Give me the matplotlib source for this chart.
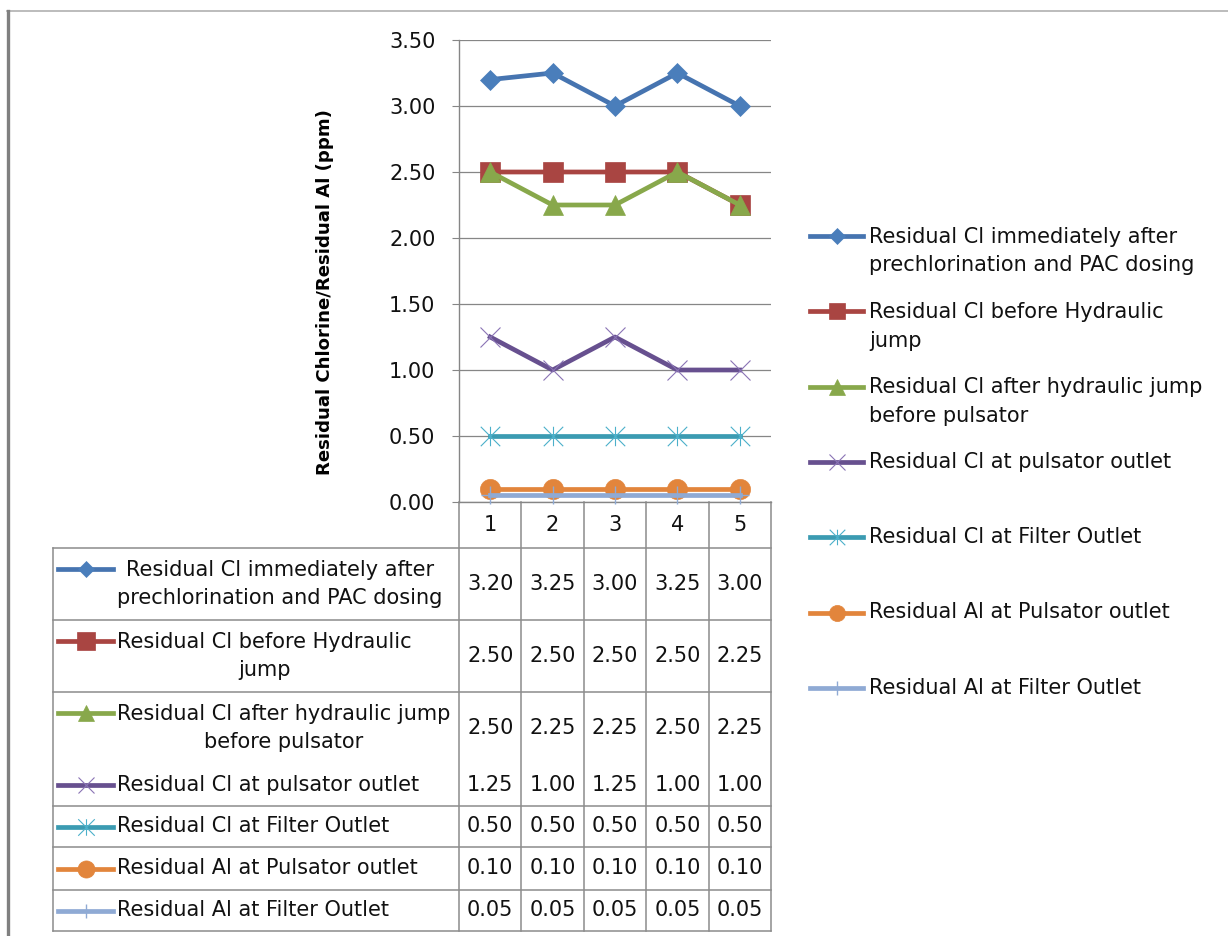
import matplotlib
matplotlib.use("Agg")
import matplotlib.pyplot as plt
import matplotlib.transforms as mtransforms
from matplotlib.lines import Line2D
from matplotlib.path import Path

# ---------------- data ----------------
categories = [1, 2, 3, 4, 5]
series_labels = [
    "Residual Cl immediately after\nprechlorination and PAC dosing",
    "Residual Cl before Hydraulic\njump",
    "Residual Cl after hydraulic jump\nbefore pulsator",
    "Residual Cl at pulsator outlet",
    "Residual Cl at Filter Outlet",
    "Residual Al at Pulsator outlet",
    "Residual Al at Filter Outlet",
]
cl_after_prechlorination = [3.20, 3.25, 3.00, 3.25, 3.00]
cl_before_jump = [2.50, 2.50, 2.50, 2.50, 2.25]
cl_after_jump = [2.50, 2.25, 2.25, 2.50, 2.25]
cl_pulsator_outlet = [1.25, 1.00, 1.25, 1.00, 1.00]
cl_filter_outlet = [0.50, 0.50, 0.50, 0.50, 0.50]
al_pulsator_outlet = [0.10, 0.10, 0.10, 0.10, 0.10]
al_filter_outlet = [0.05, 0.05, 0.05, 0.05, 0.05]
y_ticks = [0.0, 0.5, 1.0, 1.5, 2.0, 2.5, 3.0, 3.5]
y_label = "Residual Chlorine/Residual Al (ppm)"

all_series = [cl_after_prechlorination, cl_before_jump, cl_after_jump,
              cl_pulsator_outlet, cl_filter_outlet, al_pulsator_outlet,
              al_filter_outlet]

# ---------------- styles ----------------
asterisk = Path([(-1, -1), (1, 1), (-1, 1), (1, -1), (0, -1), (0, 1)],
                [Path.MOVETO, Path.LINETO, Path.MOVETO, Path.LINETO,
                 Path.MOVETO, Path.LINETO])
styles = [
    dict(color="#4674B0", marker="D", ms=10.0, mfc="#4A7EBB", mec="#4A7EBB", mew=0.5),
    dict(color="#A94542", marker="s", ms=14.5, mfc="#A94542", mec="#A94542", mew=0.5),
    dict(color="#88A84B", marker="^", ms=14.0, mfc="#88A84B", mec="#88A84B", mew=0.5),
    dict(color="#67508F", marker="x", ms=14.0, mfc="none", mec="#8A74B5", mew=0.8),
    dict(color="#3B9BB2", marker=asterisk, ms=14.0, mfc="none", mec="#4BB0CA", mew=0.8),
    dict(color="#E2853C", marker="o", ms=14.5, mfc="#E2853C", mec="#E2853C", mew=0.5),
    dict(color="#8FAAD4", marker="+", ms=12.5, mfc="none", mec="#8FAAD4", mew=1.0),
]
LW = 3.4
FONT = "DejaVu Sans"
LABEL_FS = 15.0
NUM_FS = 15.0
YLABEL_FS = 13.1
LSP = 1.55
GRID = "#868686"
TABLE = "#8C8C8C"
TXT = "#111111"

W, H = 1228, 936
fig = plt.figure(figsize=(W / 100, H / 100), dpi=100)
plt.rcParams["font.family"] = [FONT]

PX = mtransforms.Affine2D().scale(1 / W, -1 / H).translate(0, 1) + fig.transFigure

# frame lines of chart area
fig.add_artist(Line2D([7, W], [11, 11], transform=PX, color="#B0B0B0", lw=1.2))
fig.add_artist(Line2D([8, 8], [11, H], transform=PX, color="#808080", lw=2.4))

# ---------------- plot area ----------------
L, R, T, B = 459, 771, 40, 502
ax = fig.add_axes([L / W, 1 - B / H, (R - L) / W, (B - T) / H])
ax.set_xlim(0.5, len(categories) + 0.5)
ax.set_ylim(0, 3.5)
ax.set_yticks(y_ticks)
ax.set_yticklabels([f"{v:.2f}" for v in y_ticks], fontsize=NUM_FS, color=TXT)
ax.set_xticks([])
ax.tick_params(axis="y", length=5, width=0.8, color=GRID, pad=12)
for s in ["top", "right"]:
    ax.spines[s].set_visible(False)
ax.spines["left"].set_color(GRID)
ax.spines["bottom"].set_color(GRID)
ax.spines["left"].set_linewidth(1.0)
ax.spines["bottom"].set_linewidth(1.0)
ax.grid(axis="y", color=GRID, lw=0.9)
ax.set_axisbelow(True)

for vals, st in zip(all_series, styles):
    ax.plot(categories, vals, color=st["color"], lw=LW, marker=st["marker"],
            ms=st["ms"], mfc=st["mfc"], mec=st["mec"], mew=st["mew"],
            solid_joinstyle="round", clip_on=False, zorder=3)

fig.text(325 / W, 1 - 292 / H, y_label, rotation=90, ha="center", va="center",
         fontsize=YLABEL_FS, fontweight="bold", color="#000000")

# ---------------- data table ----------------
BT = mtransforms.blended_transform_factory(ax.transData, PX)
header_top, header_bot = 502, 548
row_bounds = [548, 620, 692, 764, 806, 847, 890, 931]
drawn_hlines = [548, 620, 692, 806, 847, 890, 931]
table_left = 53
label_x = 117
handle_x0, handle_x1 = 58, 113

for c in categories:
    ax.text(c, (header_top + header_bot) / 2, str(c), transform=BT, ha="center",
            va="center", fontsize=NUM_FS, color=TXT)

bounds = [c - 0.5 for c in categories] + [categories[-1] + 0.5]
for b in bounds:
    ax.add_artist(Line2D([b, b], [header_top, row_bounds[-1]], transform=BT,
                         color=TABLE, lw=1.1, clip_on=False))
fig.add_artist(Line2D([table_left, table_left], [row_bounds[0], row_bounds[-1]],
                      transform=PX, color=TABLE, lw=1.1))
for y in drawn_hlines:
    fig.add_artist(Line2D([table_left, R], [y, y], transform=PX, color=TABLE, lw=1.1))

for i, (lab, vals, st) in enumerate(zip(series_labels, all_series, styles)):
    yc = (row_bounds[i] + row_bounds[i + 1]) / 2
    nl = lab.count("\n") + 1
    yh = yc - (nl - 1) * 15
    fig.add_artist(Line2D([handle_x0, handle_x1], [yh, yh], transform=PX,
                          color=st["color"], lw=LW))
    fig.add_artist(Line2D([(handle_x0 + handle_x1) / 2], [yh], transform=PX,
                          marker=st["marker"], ms=st["ms"] * 0.85, mfc=st["mfc"],
                          mec=st["mec"], mew=st["mew"], lw=0))
    fig.text(label_x / W, 1 - yc / H, lab, ha="left", va="center",
             multialignment="center", fontsize=LABEL_FS, linespacing=LSP,
             color=TXT)
    for c, v in zip(categories, vals):
        ax.text(c, yc, f"{v:.2f}", transform=BT, ha="center", va="center",
                fontsize=NUM_FS, color=TXT)

# ---------------- legend ----------------
leg_x0, leg_x1, leg_text_x = 810, 863, 869
leg_y0, leg_step = 236, 75.3
for i, (lab, st) in enumerate(zip(series_labels, styles)):
    yh = leg_y0 + i * leg_step
    nl = lab.count("\n") + 1
    fig.add_artist(Line2D([leg_x0, leg_x1], [yh, yh], transform=PX,
                          color=st["color"], lw=LW))
    fig.add_artist(Line2D([(leg_x0 + leg_x1) / 2], [yh], transform=PX,
                          marker=st["marker"], ms=st["ms"] * 0.8, mfc=st["mfc"],
                          mec=st["mec"], mew=st["mew"], lw=0))
    fig.text(leg_text_x / W, 1 - (yh + (nl - 1) * 15) / H, lab, ha="left",
             va="center", multialignment="left", fontsize=LABEL_FS,
             linespacing=LSP, color=TXT)

fig.savefig("out.png", dpi=100, facecolor="white")
